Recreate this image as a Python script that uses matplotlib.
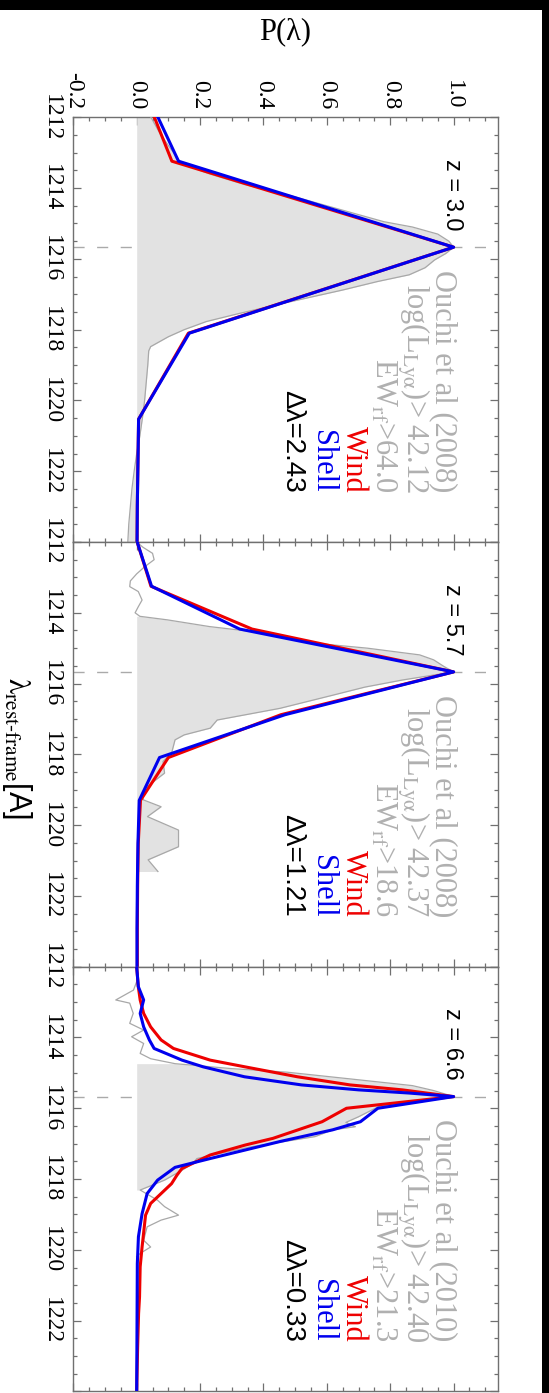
import numpy as np
import matplotlib.pyplot as plt
from matplotlib.patches import Rectangle

plt.rcParams['font.family'] = ['Liberation Serif', 'DejaVu Serif']
plt.rcParams['mathtext.fontset'] = 'stix'
plt.rcParams['axes.unicode_minus'] = False

LYA = 1215.67

# observed line profiles (Ouchi et al)
obs1_lam = [1212.0, 1212.4, 1212.8, 1213.1, 1213.3, 1213.6, 1213.9, 1214.2, 1214.5, 1214.8,
            1214.95, 1215.1, 1215.3, 1215.5, 1215.67, 1215.85, 1216.03, 1216.25, 1216.45, 1216.64,
            1216.88, 1217.1, 1217.3, 1217.55, 1217.77, 1218.0, 1218.2, 1218.48, 1218.6, 1219.0,
            1219.5, 1220.0, 1220.5, 1221.0, 1221.5, 1222.0, 1222.5, 1223.0, 1223.5, 1224.0]
obs1_p = [0.045, 0.07, 0.10, 0.125, 0.14, 0.23, 0.34, 0.48, 0.60, 0.72,
          0.78, 0.87, 0.95, 0.985, 1.0, 0.975, 0.94, 0.91, 0.86, 0.76,
          0.65, 0.54, 0.44, 0.32, 0.22, 0.15, 0.10, 0.044, 0.038, 0.035,
          0.03, 0.025, 0.018, 0.01, 0.0, -0.008, -0.015, -0.02, -0.025, -0.028]

obs2_lam = [1212.0, 1212.15, 1212.32, 1212.5, 1212.7, 1212.9, 1213.1, 1213.26, 1213.4, 1213.64,
            1213.83, 1214.0, 1214.1, 1214.2, 1214.39, 1214.53, 1214.7, 1214.86, 1215.0, 1215.19,
            1215.33, 1215.52, 1215.67, 1215.9, 1216.1, 1216.33, 1216.7, 1217.03, 1217.26, 1217.45,
            1217.59, 1217.97, 1218.2, 1218.53, 1218.91, 1219.15, 1219.29, 1219.48, 1219.76, 1220.14,
            1220.61, 1220.98, 1221.31]
obs2_p = [0.0, 0.02, 0.05, 0.055, 0.025, 0.0, -0.02, -0.022, 0.005, 0.017,
          0.005, -0.005, 0.01, 0.097, 0.23, 0.364, 0.47, 0.562, 0.728, 0.893,
          0.937, 0.97, 1.0, 0.838, 0.72, 0.618, 0.452, 0.254, 0.232, 0.15,
          0.121, 0.11, 0.083, 0.088, 0.033, 0.015, 0.022, 0.077, 0.034, 0.132,
          0.132, 0.036, 0.067]

obs3_lam = [1212.0, 1212.3, 1212.66, 1212.94, 1213.03, 1213.32, 1213.6, 1213.79, 1213.98, 1214.17,
            1214.45, 1214.6, 1214.74, 1214.88, 1214.98, 1215.17, 1215.36, 1215.5, 1215.67, 1215.81,
            1215.95, 1216.24, 1216.4, 1216.52, 1216.61, 1216.8, 1217.09, 1217.42, 1217.56, 1217.75,
            1218.03, 1218.31, 1218.6, 1218.78, 1219.02, 1219.16, 1219.35, 1219.73, 1219.92, 1220.1,
            1220.2]
obs3_p = [0.0, 0.005, -0.01, -0.066, -0.022, -0.011, -0.022, 0.022, -0.016, 0.022,
          0.011, 0.044, 0.121, 0.30, 0.474, 0.673, 0.87, 0.937, 1.0, 0.87,
          0.764, 0.70, 0.66, 0.69, 0.618, 0.563, 0.36, 0.19, 0.177, 0.143,
          0.088, 0.011, 0.066, 0.088, 0.132, 0.077, 0.033, 0.022, 0.044, 0.011,
          0.0]

# shaded part of each observed profile
fill_ranges = [(1212.0, 1224.0), (1214.05, 1221.31), (1214.7, 1218.31)]

# model profiles
wind1_lam = [1210.81, 1213.24, 1215.67, 1218.10, 1220.53, 1222.96, 1225.39]
wind1_p = [0.003, 0.111, 1.0, 0.163, 0.006, 0.002, 0.0]
shell1_lam = wind1_lam
shell1_p = [0.005, 0.132, 1.0, 0.166, 0.006, 0.002, 0.0]

wind2_lam = [1210.83, 1212.04, 1213.25, 1214.46, 1215.67, 1216.88, 1218.09, 1219.30, 1220.51,
             1221.72, 1222.93, 1224.14]
wind2_p = [0.0, 0.003, 0.045, 0.364, 1.0, 0.455, 0.10, 0.012, 0.005, 0.003, 0.002, 0.002]
shell2_lam = wind2_lam
shell2_p = [0.0, 0.003, 0.047, 0.325, 1.0, 0.468, 0.072, 0.008, 0.004, 0.002, 0.001, 0.001]

wind3_lam = [1212.0, 1212.56, 1212.94, 1213.32, 1213.7, 1214.07, 1214.31, 1214.64, 1214.83, 1215.11,
             1215.34, 1215.48, 1215.67, 1216.0, 1216.38, 1216.85, 1217.04, 1217.32, 1217.70, 1217.89,
             1218.13, 1218.69, 1219.02, 1219.92, 1220.48, 1221.33, 1221.8, 1222.74, 1224.0]
wind3_p = [0.0, 0.005, 0.011, 0.022, 0.044, 0.077, 0.116, 0.232, 0.342, 0.507,
           0.673, 0.838, 1.0, 0.662, 0.585, 0.43, 0.342, 0.232, 0.143, 0.127,
           0.11, 0.044, 0.028, 0.017, 0.011, 0.009, 0.006, 0.003, 0.0]
shell3_lam = [1212.0, 1212.56, 1212.94, 1213.32, 1213.7, 1214.07, 1214.31, 1214.64, 1214.83, 1215.11,
              1215.34, 1215.48, 1215.57, 1215.67, 1216.0, 1216.38, 1216.61, 1216.94, 1217.18, 1217.42,
              1217.67, 1218.03, 1218.41, 1218.98, 1219.63, 1220.39, 1224.0]
shell3_p = [0.0, 0.005, 0.022, 0.011, 0.022, 0.04, 0.055, 0.143, 0.21, 0.34,
            0.52, 0.70, 0.86, 1.0, 0.761, 0.706, 0.618, 0.452, 0.342, 0.232,
            0.121, 0.066, 0.033, 0.017, 0.0055, 0.002, 0.0]

redshifts = ['z = 3.0', 'z = 5.7', 'z = 6.6']
refs = ['Ouchi et al (2008)', 'Ouchi et al (2008)', 'Ouchi et al (2010)']
log_lum = ['42.12', '42.37', '42.40']
ew_cut = ['64.0', '18.6', '21.3']
dlam = ['2.43', '1.21', '0.33']

p_ticks = [-0.2, 0.0, 0.2, 0.4, 0.6, 0.8, 1.0]
p_labels = ['-0.2', '0.0', '0.2', '0.4', '0.6', '0.8', '1.0']
lam_ticks = [1212, 1214, 1216, 1218, 1220, 1222, 1224]
lam_labels = ['1212', '1214', '1216', '1218', '1220', '1222', '']

observed = [(obs1_lam, obs1_p), (obs2_lam, obs2_p), (obs3_lam, obs3_p)]
winds = [(wind1_lam, wind1_p), (wind2_lam, wind2_p), (wind3_lam, wind3_p)]
shells = [(shell1_lam, shell1_p), (shell2_lam, shell2_p), (shell3_lam, shell3_p)]

W, H = 549, 1393
fig = plt.figure(figsize=(W / 100, H / 100), dpi=100, facecolor='black')
fig.patches.append(Rectangle((0, 0), 542 / W, (H - 10) / H, transform=fig.transFigure,
                             facecolor='white', edgecolor='none', zorder=-10))

axc = '#707070'
left, right = 73.3, 498.0
tops = [117.3, 542.0, 966.7]
ph = 424.7
sans = ['Liberation Sans', 'DejaVu Sans']

for i in range(3):
    ax = fig.add_axes([left / W, (H - tops[i] - ph) / H, (right - left) / W, ph / H])
    ax.set_xlim(-0.2, 1.14)
    ax.set_ylim(1224, 1212)

    ax.axhline(LYA, color='#aaaaaa', lw=1.0, ls=(0, (8, 9)), zorder=1)

    lam = np.array(observed[i][0])
    p = np.array(observed[i][1])
    lo, hi = fill_ranges[i]
    ax.fill_betweenx(lam, 0, p, where=(lam >= lo) & (lam <= hi), color='#e2e2e2', lw=0, zorder=2)
    ax.plot(p, lam, color='#a8a8a8', lw=0.9, zorder=3)
    ax.plot(winds[i][1], winds[i][0], color='#ee0000', lw=2.2, zorder=4)
    ax.plot(shells[i][1], shells[i][0], color='#0000ee', lw=2.2, zorder=5)

    ax.set_xticks(p_ticks)
    ax.set_xticks(np.arange(-0.2, 1.14, 0.05), minor=True)
    ax.set_yticks(lam_ticks)
    ax.set_yticks(np.arange(1212, 1224.01, 0.5), minor=True)
    ax.set_yticklabels(lam_labels)
    ax.tick_params(which='both', direction='in', top=True, right=True, color=axc, width=0.9)
    ax.tick_params(which='major', length=5.8)
    ax.tick_params(which='minor', length=3.2)
    ax.tick_params(axis='y', labelrotation=270, labelsize=17, pad=8)
    plt.setp(ax.get_yticklabels(), va='center')
    if i == 0:
        ax.set_xticklabels(p_labels)
        ax.tick_params(axis='x', labeltop=True, labelbottom=False, labelrotation=270,
                       labelsize=17, pad=6)
    else:
        ax.tick_params(axis='x', labelbottom=False)
    for s in ax.spines.values():
        s.set_color(axc)
        s.set_linewidth(1.0)

    kw = dict(rotation=270, rotation_mode='anchor', ha='right', va='baseline', zorder=6)
    ax.text(0.975, 1215.2, redshifts[i], fontsize=17, family=sans, color='black', **kw)
    ax.text(0.945, 1222.6, refs[i], fontsize=22, color='#b0b0b0', **kw)
    ax.text(0.851, 1222.6, r'log(L$_{\rm Ly\alpha}$)> ' + log_lum[i], fontsize=22,
            color='#b0b0b0', **kw)
    ax.text(0.753, 1222.6, r'EW$_{\rm rf}$>' + ew_cut[i], fontsize=22, color='#b0b0b0', **kw)
    ax.text(0.659, 1222.6, 'Wind', fontsize=22, color='#ee0000', **kw)
    ax.text(0.564, 1222.6, 'Shell', fontsize=22, color='#0000ee', **kw)
    ax.text(0.467, 1222.6, 'Δλ=' + dlam[i], fontsize=20, family=sans, color='black', **kw)

fig.text(285 / W, 1 - 31.5 / H, 'P(λ)', fontsize=22, ha='center', va='center')
fig.text(17 / W, 1 - 748 / H, r'$\mathrm{\lambda}_{\mathrm{rest\text{-}frame}}$[A]', fontsize=22,
         rotation=270, ha='center', va='center', family=sans)

fig.savefig('out.png', dpi=100)
